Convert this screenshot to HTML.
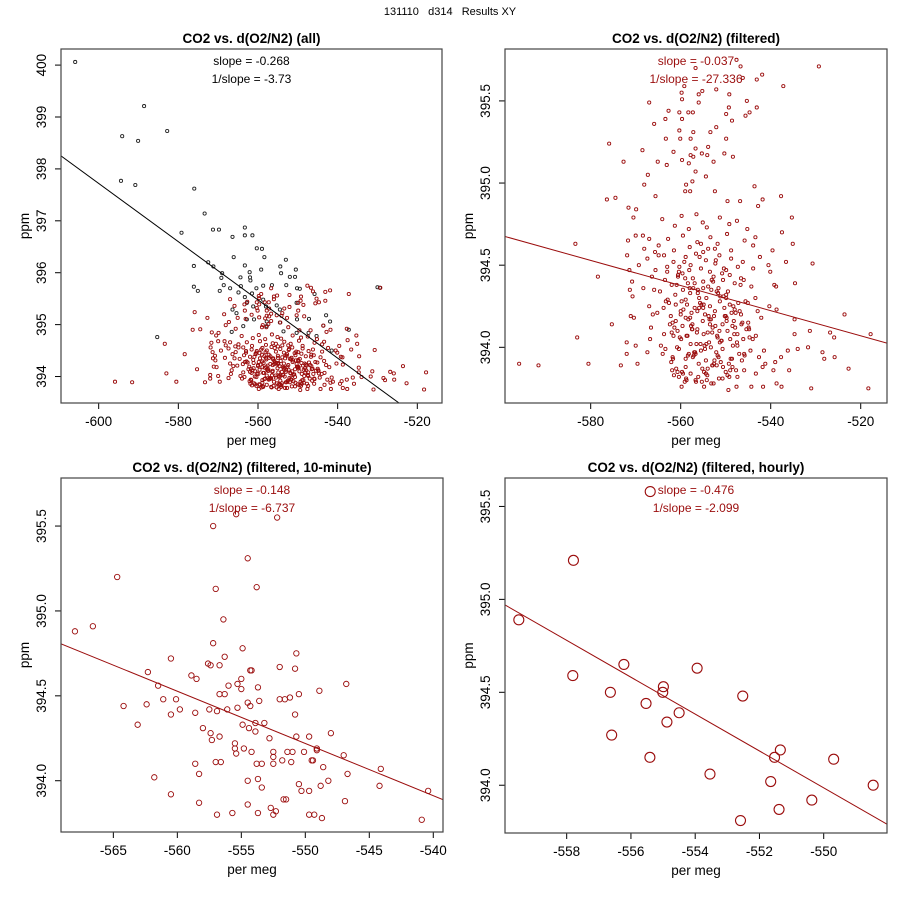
<!DOCTYPE html>
<html><head><meta charset="utf-8"><style>
html,body{margin:0;padding:0;background:#fff;}
svg{display:block;font-family:"Liberation Sans",sans-serif;}
</style></head><body>
<svg id="fig" width="900" height="900" viewBox="0 0 900 900" xmlns="http://www.w3.org/2000/svg">
<rect width="900" height="900" fill="#fff"/>
<text x="450" y="15" font-size="11" text-anchor="middle" style="white-space:pre" xml:space="preserve">131110   d314   Results XY</text>
</svg>
<script>
// ---- data ----
const tlBlackX=[-605.9,-588.6,-594.1,-590.1,-582.8,-594.4,-590.8,-576.0,-573.4,-579.2,-571.3,-569.8,-566.4,-563.3,-563.3,-561.4,-560.3,-559.0,-566.1,-558.4,-553.0,-554.4,-550.5,-563.3,-576.1,-572.5,-571.2,-569.0,-569.2,-562.1,-559.2,-564.4,-562.0,-554.2,-552.0,-550.7,-576.1,-575.1,-568.6,-569.6,-567.0,-564.3,-564.9,-561.9,-560.4,-558.7,-556.5,-552.9,-550.2,-549.5,-530.0,-529.4,-545.8,-563.3,-561.5,-558.7,-562.8,-561.2,-558.0,-555.3,-550.3,-554.5,-566.4,-565.4,-562.8,-561.0,-557.8,-554.5,-550.2,-547.2,-542.9,-541.9,-566.6,-563.7,-557.8,-553.6,-550.3,-547.3,-543.6,-537.2,-585.3,-541.5,-545.3];
const tlBlackY=[400.06,399.21,398.63,398.54,398.73,397.77,397.69,397.62,397.14,396.77,396.83,396.83,396.69,396.87,396.72,396.72,396.47,396.46,396.30,396.30,396.25,396.12,396.06,396.14,396.13,396.20,396.12,395.99,395.90,396.01,396.06,395.91,395.91,395.99,395.92,395.92,395.73,395.65,395.76,395.65,395.70,395.74,395.62,395.85,395.70,395.75,395.76,395.76,395.70,395.69,395.72,395.71,395.59,395.53,395.60,395.48,395.42,395.35,395.35,395.37,395.42,395.29,395.29,395.22,395.10,395.10,395.06,395.04,395.10,395.11,395.18,395.06,394.86,394.97,394.97,394.87,394.84,394.84,394.98,394.90,394.76,394.50,394.78];
const filtX=[-595.9,-591.6,-580.5,-583.0,-583.4,-578.4,-576.4,-574.5,-575.9,-572.7,-575.3,-573.3,-572.0,-572.0,-571.6,-569.9,-570.5,-570.0,-571.7,-571.9,-571.4,-571.3,-570.7,-571.1,-570.4,-570.0,-569.6,-568.4,-568.5,-568.1,-567.3,-567.0,-565.9,-565.1,-565.6,-563.1,-563.4,-562.7,-563.3,-561.6,-560.3,-560.1,-559.8,-559.7,-559.2,-560.3,-559.7,-558.3,-557.3,-557.2,-557.8,-556.7,-557.8,-557.2,-559.7,-558.2,-556.7,-558.8,-557.4,-557.9,-559.0,-556.7,-556.0,-555.2,-556.0,-555.3,-553.9,-554.1,-554.4,-553.4,-552.1,-552.1,-552.7,-552.4,-549.9,-549.3,-549.2,-548.6,-549.9,-550.3,-548.4,-547.6,-546.7,-546.2,-545.3,-545.6,-544.7,-543.1,-543.1,-541.9,-537.2,-529.3,-543.6,-541.8,-542.8,-549.6,-546.8,-537.7,-535.3,-537.5,-543.4,-539.6,-535.1,-536.6,-530.7,-540.1,-538.8,-534.6,-538.7,-534.7,-534.7,-531.3,-526.8,-525.9,-523.6,-517.8,-522.7,-518.3,-531.0,-531.7,-528.5,-528.1,-525.8,-534.0,-537.7,-538.7,-537.6,-535.9,-539.0,-539.4,-536.2,-541.2,-541.7,-544.3,-547.6,-549.4,-552.7,-554.8,-559.8,-558.7,
-564.1,-561.3,-559.8,-558.2,-556.5,-555.1,-554.2,-551.3,-549.2,-547.5,-545.2,
-564.9,-562.8,-561.5,-559.5,-558.0,-556.3,-555.0,-553.4,-552.4,-551.8,-549.7,-548.8,-545.8,-543.9,-568.1,-567.0,-565.7,
-569.3,-567.4,-565.6,-563.7,-563.0,-561.6,-560.4,-558.9,-557.8,-556.6,-555.5,-554.4,-553.5,-552.3,-551.4,-549.9,-548.8,-547.3,-546.2,-543.9,-542.4,-540.5,
-570.8,-568.3,-566.4,-564.6,-563.5,-562.0,-560.6,-559.5,-558.4,-557.3,-556.2,-555.0,-553.9,-552.7,-551.6,-550.6,-549.5,-548.0,-546.6,-544.3,
-567.0,-565.2,-563.3,-562.2,-561.1,-560.0,-558.9,-557.9,-556.9,-555.7,-554.6,-553.5,-552.4,-551.3,-550.2,-549.1,-548.0,-546.6,-545.1,-542.9,
-566.6,-563.7,-561.8,-560.7,-559.6,-558.5,-557.4,-556.3,-555.1,-554.0,-552.9,-551.8,-550.7,-549.6,-548.5,-547.4,-546.3,-544.8,-543.3,
-567.4,-564.4,-561.8,-560.4,-558.9,-557.8,-556.7,-555.5,-554.4,-553.3,-551.8,-550.7,-548.9,-547.4,-545.9,-544.5,-542.6,
-561.9,-560.4,-558.9,-557.8,-556.7,-555.2,-554.1,-553.0,-551.5,-550.0,-548.5,-547.4,-545.9,-543.3,-541.8,
-561.2,-559.9,-558.3,-557.1,-555.9,-554.8,-553.7,-552.6,-551.1,-549.9,-560.8,-559.1,-557.6,-556.0,-554.9,-553.2,-552.0,-550.9,-549.3,-548.2,-561.5,-558.6,-556.5,-554.3,-552.1,-550.3,-559.6,-557.2,-555.3,-553.0,
-562.4,-561.7,-560.9,-560.2,-559.4,-558.8,-558.1,-557.5,-556.8,-556.2,-555.6,-554.9,-554.4,-553.8,-553.1,-552.5,-551.9,-551.2,-550.6,-549.8,-549.1,-548.4,-547.7,-546.9,-546.1,
-562.9,-562.0,-561.0,-560.0,-559.2,-558.4,-557.7,-556.9,-556.1,-555.4,-554.6,-553.9,-553.3,-552.6,-551.7,-551.0,-550.4,-549.6,-548.7,-547.9,-547.0,-545.6,-544.7,
-563.4,-562.6,-561.4,-560.6,-559.7,-558.9,-558.0,-557.3,-556.4,-555.8,-555.0,-554.2,-553.5,-552.8,-552.0,-551.3,-550.5,-549.8,-549.0,-548.1,-547.2,-546.4,-545.4,-544.0,
-562.1,-561.1,-560.3,-559.5,-558.7,-557.9,-557.0,-556.3,-555.5,-554.7,-554.0,-553.2,-552.3,-551.6,-550.8,-550.0,-549.2,-548.3,-547.5,-546.7,-545.8,
-561.6,-560.7,-559.8,-559.0,-558.2,-557.4,-556.6,-555.9,-555.0,-554.3,-553.6,-552.9,-552.2,-551.4,-550.7,-549.9,-549.0,-548.6,-547.8,-546.5,
-565.9,-566.8,-564.9,-563.8,-543.4,-542.1,-544.9,-541.5,-540.3,-539.2,-563.0,-545.0,-546.0,-564.0,-566.2];
const filtY=[393.90,393.89,393.90,394.06,394.63,394.43,394.90,394.91,395.24,395.13,394.14,393.89,394.03,393.96,394.85,394.84,394.79,394.68,394.65,394.56,394.47,394.35,394.31,394.19,394.18,394.01,393.90,394.68,395.20,394.99,395.05,395.49,395.36,395.13,394.92,395.11,395.39,395.44,395.27,395.19,395.32,395.27,395.55,395.51,395.59,395.43,395.39,395.43,395.43,395.31,395.27,395.21,395.17,395.16,395.14,395.12,395.07,394.99,395.01,394.95,394.95,395.70,395.54,395.56,395.49,395.18,395.22,395.17,395.04,395.31,395.57,395.34,395.13,394.95,395.42,395.46,395.54,395.38,395.27,395.18,395.16,395.75,395.71,395.64,395.50,395.41,395.43,395.46,395.63,395.66,395.59,395.71,394.98,394.90,394.86,394.89,394.89,394.92,394.79,394.70,394.67,394.59,394.63,394.52,394.51,394.46,394.37,394.39,394.23,394.17,394.08,394.10,394.09,394.06,394.20,394.08,393.87,393.75,393.75,394.00,393.97,393.93,393.94,393.99,393.94,393.78,393.76,393.86,393.91,393.86,393.98,393.90,393.76,393.76,393.76,393.74,393.78,393.76,393.76,393.80,
394.78,394.74,394.80,394.72,394.81,394.76,394.73,394.79,394.75,394.77,394.72,
394.62,394.66,394.59,394.68,394.61,394.64,394.58,394.67,394.60,394.63,394.69,394.59,394.65,394.62,394.60,394.66,394.58,
394.50,394.54,394.47,394.56,394.49,394.52,394.46,394.55,394.50,394.57,394.48,394.53,394.46,394.51,394.56,394.47,394.54,394.49,394.52,394.48,394.55,394.50,
394.40,394.36,394.43,394.34,394.41,394.38,394.44,394.35,394.39,394.42,394.33,394.40,394.37,394.43,394.36,394.41,394.34,394.39,394.42,394.37,
394.25,394.21,394.28,394.19,394.26,394.22,394.29,394.18,394.24,394.27,394.20,394.25,394.22,394.28,394.19,394.26,394.23,394.20,394.27,394.22,
394.12,394.08,394.15,394.10,394.13,394.07,394.14,394.11,394.16,394.09,394.12,394.06,394.14,394.10,394.13,394.08,394.15,394.11,394.07,
393.97,394.01,393.94,393.99,393.93,394.02,393.96,393.98,393.92,394.00,393.95,393.99,393.93,394.01,393.96,393.98,393.94,
393.86,393.82,393.88,393.84,393.80,393.87,393.83,393.89,393.81,393.85,393.88,393.82,393.86,393.84,393.88,
394.32,394.05,394.17,393.95,394.30,393.85,394.03,394.19,393.91,394.32,394.00,393.79,394.21,393.90,394.08,393.78,394.34,394.04,393.90,394.16,393.83,394.26,394.02,394.30,393.97,394.24,394.45,394.36,393.79,394.09,
394.14,393.93,394.38,394.06,394.23,393.81,394.47,394.11,393.97,394.35,394.02,394.26,393.84,394.19,394.41,393.92,394.07,394.31,393.88,394.16,394.44,394.01,393.86,394.22,394.05,
394.29,394.09,393.87,394.20,394.52,393.95,394.13,394.39,393.82,394.26,393.99,394.60,394.17,393.90,394.33,394.04,394.48,393.83,394.21,394.12,393.96,394.28,394.06,
393.99,394.27,394.12,394.43,393.85,394.18,394.36,393.94,394.09,394.55,394.24,393.80,394.14,394.40,393.89,394.03,394.31,394.18,393.86,394.08,394.27,393.92,394.11,394.05,
393.91,394.16,394.49,393.84,394.07,394.33,393.97,394.22,394.63,394.01,393.87,394.35,394.13,393.94,394.45,394.19,393.82,394.25,394.03,394.38,393.95,
394.07,393.85,394.28,394.42,393.96,394.11,393.79,394.24,394.36,394.02,394.17,393.89,394.53,394.10,393.81,394.30,394.05,393.93,394.21,394.14,
394.35,394.05,394.56,394.24,394.30,394.18,394.12,393.98,394.25,394.38,394.46,394.15,394.41,393.96,394.20];
const tenX=[-568.0,-566.6,-564.7,-564.2,-563.1,-562.3,-562.4,-561.8,-561.5,-561.1,-560.5,-560.5,-560.5,-560.1,-559.8,-558.9,-558.5,-558.6,-558.6,-558.3,-558.3,-558.0,-557.4,-557.3,-557.5,-557.6,-557.4,-557.2,-557.2,-557.0,-557.0,-556.9,-556.9,-556.7,-556.7,-556.7,-556.6,-556.4,-556.3,-556.3,-556.1,-556.0,-555.7,-555.5,-555.5,-555.4,-555.4,-555.3,-555.3,-555.0,-555.0,-554.9,-554.9,-554.8,-554.5,-554.5,-554.5,-554.5,-554.4,-554.3,-554.3,-554.2,-554.2,-553.9,-553.9,-553.8,-553.8,-553.7,-553.7,-553.7,-553.6,-553.4,-553.4,-553.2,-552.8,-552.7,-552.5,-552.5,-552.5,-552.5,-552.3,-552.2,-552.0,-552.0,-551.8,-551.7,-551.6,-551.5,-551.4,-551.2,-551.1,-551.0,-550.8,-550.8,-550.7,-550.7,-550.5,-550.5,-550.3,-550.1,-549.7,-549.7,-549.7,-549.5,-549.4,-549.3,-549.1,-549.1,-548.9,-548.8,-548.7,-548.6,-548.2,-548.0,-547.0,-546.9,-546.8,-546.7,-544.1,-544.2,-540.9,-540.4];
const tenY=[394.88,394.91,395.20,394.44,394.33,394.64,394.45,394.02,394.56,394.48,394.72,394.39,393.92,394.48,394.42,394.62,394.60,394.40,394.10,394.04,393.87,394.31,394.28,394.24,394.42,394.69,394.68,394.81,395.50,395.13,394.11,393.80,394.41,394.68,394.26,394.51,394.11,394.95,394.73,394.51,394.42,394.56,393.81,394.22,394.19,394.16,395.57,394.57,394.43,394.60,394.54,394.33,394.78,394.19,394.00,395.31,393.86,394.46,394.31,394.65,394.44,394.65,394.17,394.34,394.29,395.14,394.10,394.01,393.81,394.55,394.47,394.10,393.96,394.34,394.25,393.84,394.10,393.80,394.14,394.17,393.82,395.55,394.67,394.48,394.12,393.89,394.48,393.89,394.17,394.49,394.11,394.17,394.66,394.39,394.75,394.26,393.98,394.51,393.94,394.17,394.26,393.94,393.80,394.12,394.12,393.80,394.18,394.19,394.53,393.97,393.78,394.08,394.00,394.28,394.15,393.88,394.57,394.04,394.07,393.97,393.77,393.94];
const hrX=[-559.49,-557.79,-557.81,-556.22,-556.64,-556.60,-555.53,-555.41,-554.99,-555.01,-554.88,-554.50,-553.94,-553.54,-552.52,-552.59,-551.65,-551.53,-551.35,-551.39,-550.37,-549.69,-548.46,-555.40];
const hrY=[394.89,395.21,394.59,394.65,394.50,394.27,394.44,394.15,394.53,394.50,394.34,394.39,394.63,394.06,394.48,393.81,394.02,394.15,394.19,393.87,393.92,394.14,394.00,395.58];
const fitSlopes=[-0.0561,-0.00765,-0.03075,-0.0992];
const fitIntercepts=[364.06,390.092,377.307,339.426];
const titles=["CO2 vs. d(O2/N2) (all)","CO2 vs. d(O2/N2) (filtered)","CO2 vs. d(O2/N2) (filtered, 10-minute)","CO2 vs. d(O2/N2) (filtered, hourly)"];
const slopeLabels=["slope = -0.268","slope = -0.037","slope = -0.148","slope = -0.476"];
const invSlopeLabels=["1/slope = -3.73","1/slope = -27.336","1/slope = -6.737","1/slope = -2.099"];
const xTicks=[[-600,-580,-560,-540,-520],[-580,-560,-540,-520],[-565,-560,-555,-550,-545,-540],[-558,-556,-554,-552,-550]];
const yTicks=[[394,395,396,397,398,399,400],[394,394.5,395,395.5],[394,394.5,395,395.5],[394,394.5,395,395.5]];
const yTickLabels=[["394","395","396","397","398","399","400"],["394.0","394.5","395.0","395.5"],["394.0","394.5","395.0","395.5"],["394.0","394.5","395.0","395.5"]];

// ---- layout (pixel geometry, not data) ----
const NS="http://www.w3.org/2000/svg";
const svg=document.getElementById('fig');
const panels=[
 {L:61,R:442,T:49,B:403,xd:[-609.46,-513.8],yd:[393.49,400.31],col:'#000',tc:'#000',r:1.6},
 {L:505,R:887,T:49,B:403,xd:[-599.04,-514.16],yd:[393.661,395.816],col:'#9b0d0d',tc:'#9b0d0d',r:1.6},
 {L:61,R:443,T:478,B:832,xd:[-569.09,-539.24],yd:[393.698,395.783],col:'#9b0d0d',tc:'#9b0d0d',r:2.7},
 {L:505,R:887,T:478,B:833,xd:[-559.92,-548.03],yd:[393.743,395.653],col:'#9b0d0d',tc:'#9b0d0d',r:5}
];
function mk(tag,attrs,parent){const e=document.createElementNS(NS,tag);for(const k in attrs)e.setAttribute(k,attrs[k]);(parent||svg).appendChild(e);return e;}
const RED='#9b0d0d';
panels.forEach((p,i)=>{
  const sx=v=>p.L+(v-p.xd[0])/(p.xd[1]-p.xd[0])*(p.R-p.L);
  const sy=v=>p.B-(v-p.yd[0])/(p.yd[1]-p.yd[0])*(p.B-p.T);
  const g=mk('g',{});
  
  
  const cp=mk('clipPath',{id:'clip'+i},g);mk('rect',{x:p.L,y:p.T,width:p.R-p.L,height:p.B-p.T},cp);
  const t=mk('text',{x:(p.L+p.R)/2,y:p.T-6,'font-size':13.5,'font-weight':'bold','text-anchor':'middle'},g);
  t.textContent=titles[i];
  
  
  const xa=mk('g',{},g);
  
  
  const xt=xTicks[i];
  mk('line',{x1:sx(xt[0]),x2:sx(xt[xt.length-1]),y1:p.B,y2:p.B,stroke:'#000','stroke-width':1},xa);
  xt.forEach(v=>{
    mk('line',{x1:sx(v),x2:sx(v),y1:p.B,y2:p.B+6,stroke:'#000'},xa);
    const tl=mk('text',{x:sx(v),y:p.B+23,'font-size':13.5,'text-anchor':'middle'},xa);
    tl.textContent=String(v);
    
    
  });
  const xl=mk('text',{x:(p.L+p.R)/2,y:p.B+42,'font-size':13.5,'text-anchor':'middle'},g);
  xl.textContent='per meg';
  
  
  const ya=mk('g',{},g);
  
  
  const yt=yTicks[i];
  mk('line',{x1:p.L,x2:p.L,y1:sy(yt[0]),y2:sy(yt[yt.length-1]),stroke:'#000'},ya);
  yt.forEach((v,j)=>{
    mk('line',{x1:p.L-6,x2:p.L,y1:sy(v),y2:sy(v),stroke:'#000'},ya);
    const yl=mk('text',{x:p.L-15,y:sy(v),'font-size':13.5,'text-anchor':'middle',transform:`rotate(-90 ${p.L-15} ${sy(v)})`},ya);
    yl.textContent=yTickLabels[i][j];
    
    
  });
  const yTitle=mk('text',{x:p.L-32,y:(p.T+p.B)/2,'font-size':13.5,'text-anchor':'middle',transform:`rotate(-90 ${p.L-32} ${(p.T+p.B)/2})`},g);
  yTitle.textContent='ppm';
  
  
  const pts=mk('g',{'clip-path':`url(#clip${i})`,fill:'none','stroke-width':p.r>3?1.1:0.9},g);
  
  
  function dot(x,y,c){const e=mk('circle',{cx:sx(x),cy:sy(y),r:p.r,stroke:c},pts);
    
    }
  if(i===0){tlBlackX.forEach((x,k)=>dot(x,tlBlackY[k],'#222'));filtX.forEach((x,k)=>dot(x,filtY[k],RED));}
  if(i===1){filtX.forEach((x,k)=>dot(x,filtY[k],RED));}
  if(i===2){tenX.forEach((x,k)=>dot(x,tenY[k],RED));}
  if(i===3){hrX.forEach((x,k)=>dot(x,hrY[k],RED));}
  const b=fitSlopes[i],a=fitIntercepts[i];
  const fl=mk('line',{x1:sx(p.xd[0]),y1:sy(a+b*p.xd[0]),x2:sx(p.xd[1]),y2:sy(a+b*p.xd[1]),stroke:p.col,'stroke-width':1,'clip-path':`url(#clip${i})`},g);
  
  
  const s1=mk('text',{x:(p.L+p.R)/2,y:p.T+16,'font-size':12,'text-anchor':'middle',fill:p.tc},g);
  s1.textContent=slopeLabels[i];
  
  
  const s2=mk('text',{x:(p.L+p.R)/2,y:p.T+34,'font-size':12,'text-anchor':'middle',fill:p.tc},g);
  s2.textContent=invSlopeLabels[i];
  
  
  const bx=mk('rect',{x:p.L,y:p.T,width:p.R-p.L,height:p.B-p.T,fill:'none',stroke:'#444','stroke-width':1.2},g);
  
  
});
</script>
</body></html>
